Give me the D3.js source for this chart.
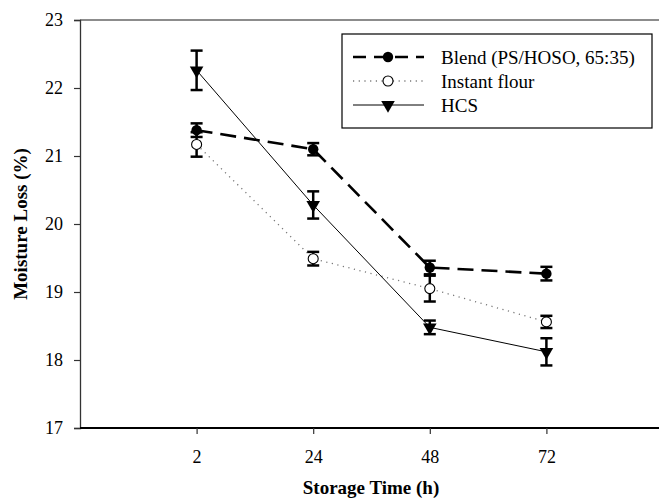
<!DOCTYPE html>
<html><head><meta charset="utf-8">
<script src="https://cdn.jsdelivr.net/npm/d3@7"></script>
<style>body{margin:0;background:#fff}svg{display:block}text{font-family:'Liberation Serif','Times New Roman',serif}</style>
</head><body>
<svg id="c" width="659" height="500"></svg>
<script>
const times = ["2", "24", "48", "72"];
const blend = [21.38, 21.10, 19.36, 19.27];
const blendErr = [0.10, 0.09, 0.10, 0.10];
const instant = [21.17, 19.49, 19.05, 18.56];
const instantErr = [0.18, 0.10, 0.19, 0.09];
const hcs = [22.26, 20.28, 18.48, 18.12];
const hcsErr = [0.29, 0.20, 0.10, 0.20];
const yTicks = [17, 18, 19, 20, 21, 22, 23];
const seriesNames = ["Blend (PS/HOSO, 65:35)", "Instant flour", "HCS"];

const svg = d3.select("#c");
const L = 80, R = 663, T = 20, B = 428;
const x = d3.scaleLinear().domain([0, 5]).range([L, R]);
const y = d3.scaleLinear().domain([17, 23]).range([B, T]);
const font = "Liberation Serif, Times New Roman, serif";

// frame top line
svg.append("line").attr("x1", L).attr("x2", 659).attr("y1", T).attr("y2", T)
  .attr("stroke", "#666").attr("stroke-width", 1.5);

// y axis
const ya = svg.append("g").attr("transform", `translate(${L},0)`)
  .call(d3.axisLeft(y).tickValues(yTicks).tickSize(6).tickFormat(d3.format("d")));
ya.attr("font-family", font).attr("font-size", 18);
ya.select(".domain").attr("stroke", "#333").attr("stroke-width", 1.3);
ya.selectAll(".tick line").attr("stroke", "#333").attr("stroke-width", 1.2);
ya.selectAll("text").attr("fill", "#000").attr("x", -17);

// x axis
const xa = svg.append("g").attr("transform", `translate(0,${B})`)
  .call(d3.axisBottom(x).tickValues([1, 2, 3, 4]).tickSize(6).tickFormat((d, i) => times[i]));
xa.attr("font-family", font).attr("font-size", 18);
xa.select(".domain").attr("d", `M${L},0H659`).attr("stroke", "#000").attr("stroke-width", 1.8);
xa.selectAll(".tick line").attr("stroke", "#333").attr("stroke-width", 1.2);
xa.selectAll("text").attr("fill", "#000").attr("y", 22);

// titles
svg.append("text").attr("x", 371).attr("y", 494).attr("text-anchor", "middle")
  .attr("font-family", font).attr("font-size", 19).attr("font-weight", "bold").text("Storage Time (h)");
svg.append("text").attr("transform", "translate(27,224) rotate(-90)").attr("text-anchor", "middle")
  .attr("font-family", font).attr("font-size", 19).attr("font-weight", "bold").text("Moisture Loss (%)");

const series = [
  {vals: blend, err: blendErr, dash: "16,8", w: 2.6, color: "#000", marker: "fillcircle"},
  {vals: instant, err: instantErr, dash: "1.2,4.5", w: 1.3, color: "#777", marker: "opencircle"},
  {vals: hcs, err: hcsErr, dash: null, w: 1, color: "#000", marker: "tri"}
];

const line = d3.line().x((d, i) => x(i + 1)).y(d => y(d));

function drawMarker(g, type, cx, cy) {
  if (type === "fillcircle") {
    g.append("circle").attr("cx", cx).attr("cy", cy).attr("r", 5.2).attr("fill", "#000");
  } else if (type === "opencircle") {
    g.append("circle").attr("cx", cx).attr("cy", cy).attr("r", 5).attr("fill", "#fff")
      .attr("stroke", "#000").attr("stroke-width", 1.1);
  } else {
    g.append("path").attr("d", d3.symbol().type(d3.symbolTriangle).size(80)())
      .attr("transform", `translate(${cx},${cy}) rotate(180)`).attr("fill", "#000");
  }
}

series.forEach(s => {
  const p = svg.append("path").datum(s.vals).attr("d", line).attr("fill", "none")
    .attr("stroke", s.color).attr("stroke-width", s.w);
  if (s.dash) p.attr("stroke-dasharray", s.dash);
});

series.forEach(s => {
  const g = svg.append("g");
  s.vals.forEach((v, i) => {
    const cx = x(i + 1), y1 = y(v + s.err[i]), y2 = y(v - s.err[i]);
    g.append("line").attr("x1", cx).attr("x2", cx).attr("y1", y1).attr("y2", y2)
      .attr("stroke", "#000").attr("stroke-width", 2.5);
    [y1, y2].forEach(yy => g.append("line").attr("x1", cx - 6).attr("x2", cx + 6)
      .attr("y1", yy).attr("y2", yy).attr("stroke", "#000").attr("stroke-width", 2.5));
    drawMarker(g, s.marker, cx, y(v));
  });
});

// legend
const lg = svg.append("g");
lg.append("rect").attr("x", 342).attr("y", 34).attr("width", 310).attr("height", 94)
  .attr("fill", "#fff").attr("stroke", "#000").attr("stroke-width", 1.2);
const rows = [57, 81, 105];
series.forEach((s, i) => {
  const ly = rows[i];
  const l = lg.append("line").attr("x1", 353).attr("x2", 424).attr("y1", ly).attr("y2", ly)
    .attr("stroke", s.color).attr("stroke-width", s.w);
  if (s.dash) l.attr("stroke-dasharray", s.marker === "fillcircle" ? "13,8" : s.dash);
  drawMarker(lg, s.marker, 388, ly);
  lg.append("text").attr("x", 441).attr("y", ly + 6.5).attr("font-family", font)
    .attr("font-size", 19).text(seriesNames[i]);
});
</script>
</body></html>
